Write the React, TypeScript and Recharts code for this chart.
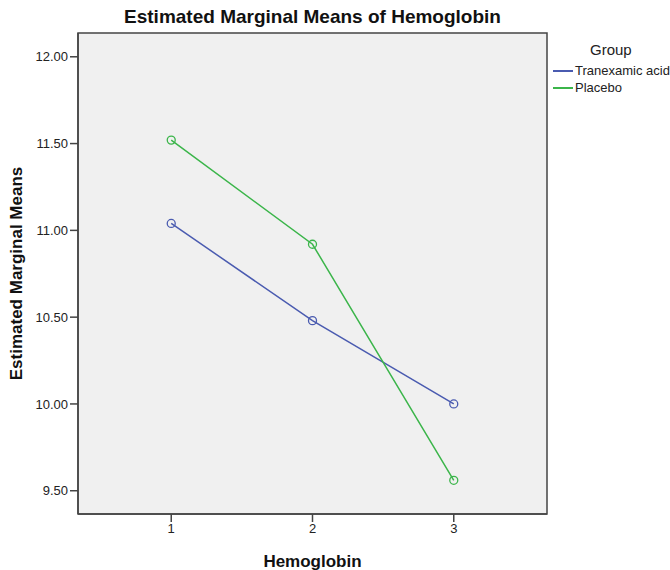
import React from 'react';
import {
	LineChart,
	Line,
	XAxis,
	YAxis,
	ReferenceArea,
} from 'recharts';

const levels = [1, 2, 3];
const tranexamic = [11.04, 10.48, 10.0];
const placebo = [11.52, 10.92, 9.56];
const yTicks = [9.5, 10.0, 10.5, 11.0, 11.5, 12.0];
const seriesNames = ['Tranexamic acid', 'Placebo'];

const data = levels.map((lvl, i) => ({
	level: lvl,
	tranexamic: tranexamic[i],
	placebo: placebo[i],
}));

const X_DOMAIN: [number, number] = [0.34, 3.66];
const Y_DOMAIN: [number, number] = [9.366, 12.137];

const BLUE = '#4a5bb0';
const GREEN = '#3bb54a';
const FONT = '"Liberation Sans", Arial, sans-serif';

// SPSS-style legend sitting to the right of the plot box
const LegendBox = () => (
	<div style={{ position: 'absolute', left: 553, top: 41, fontFamily: FONT, color: '#222' }}>
		<div style={{ fontSize: 15, marginLeft: 37, marginBottom: 4 }}>Group</div>
		{seriesNames.map((name, i) => (
			<div key={name} style={{ display: 'flex', alignItems: 'center', fontSize: 13, height: 17 }}>
				<span
					style={{
						display: 'inline-block',
						width: 20,
						height: 0,
						borderTop: `2px solid ${i === 0 ? BLUE : GREEN}`,
						marginRight: 2,
					}}
				/>
				{name}
			</div>
		))}
	</div>
);

export default function App() {
	return (
		<div style={{ position: 'absolute', left: 0, top: 0, width: 670, height: 570, background: '#fff' }}>
			<div
				style={{
					position: 'absolute',
					left: 78,
					width: 469,
					top: 6,
					textAlign: 'center',
					fontFamily: FONT,
					fontWeight: 'bold',
					fontSize: 19,
					color: '#111',
				}}
			>
				Estimated Marginal Means of Hemoglobin
			</div>
			<LineChart
				width={670}
				height={570}
				data={data}
				margin={{ top: 33, right: 123, left: 0, bottom: 0 }}
			>
				<ReferenceArea
					x1={X_DOMAIN[0]}
					x2={X_DOMAIN[1]}
					y1={Y_DOMAIN[0]}
					y2={Y_DOMAIN[1]}
					fill="#f0f0f0"
					fillOpacity={1}
					stroke="#444"
					strokeWidth={1.5}
				/>
				<XAxis
					dataKey="level"
					type="number"
					domain={X_DOMAIN}
					ticks={levels}
					height={56}
					tickSize={8}
					axisLine={{ stroke: '#444', strokeWidth: 1.5 }}
					tickLine={{ stroke: '#444', strokeWidth: 1.5 }}
					tick={{ fill: '#222', fontSize: 13, fontFamily: FONT }}
					label={{
						value: 'Hemoglobin',
						position: 'insideBottom',
						offset: 3,
						style: { fontFamily: FONT, fontWeight: 'bold', fontSize: 17, fill: '#111' },
					}}
				/>
				<YAxis
					type="number"
					domain={Y_DOMAIN}
					ticks={yTicks}
					width={78}
					tickSize={8}
					tickMargin={2}
					tickFormatter={(v: number) => v.toFixed(2)}
					axisLine={{ stroke: '#444', strokeWidth: 1.5 }}
					tickLine={{ stroke: '#444', strokeWidth: 1.5 }}
					tick={{ fill: '#222', fontSize: 13, fontFamily: FONT }}
					label={{
						value: 'Estimated Marginal Means',
						angle: -90,
						position: 'insideLeft',
						offset: 16,
						style: { textAnchor: 'middle', fontFamily: FONT, fontWeight: 'bold', fontSize: 17, fill: '#111' },
					}}
				/>
				<Line
					dataKey="tranexamic"
					name={seriesNames[0]}
					stroke={BLUE}
					strokeWidth={1.5}
					dot={{ r: 4, fill: 'none', stroke: BLUE, strokeWidth: 1.3 }}
					isAnimationActive={false}
				/>
				<Line
					dataKey="placebo"
					name={seriesNames[1]}
					stroke={GREEN}
					strokeWidth={1.5}
					dot={{ r: 4, fill: 'none', stroke: GREEN, strokeWidth: 1.3 }}
					isAnimationActive={false}
				/>
			</LineChart>
			<LegendBox />
		</div>
	);
}
